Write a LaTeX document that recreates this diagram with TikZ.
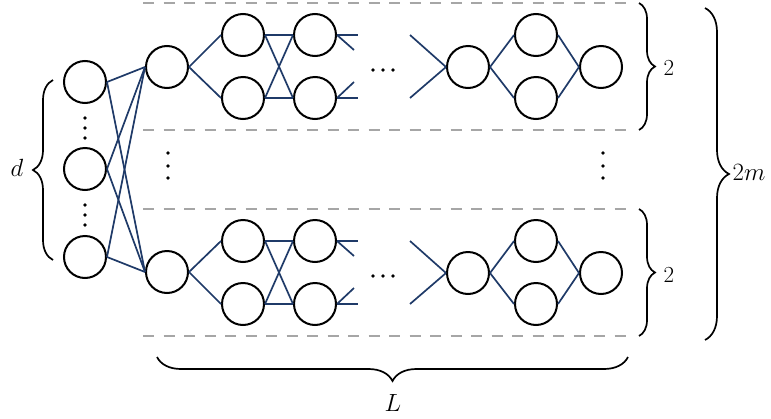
\documentclass[tikz,border=0pt]{standalone}
\usetikzlibrary{decorations.pathreplacing}
\definecolor{edgeblue}{RGB}{31,58,104}
\definecolor{sepgray}{RGB}{166,166,166}
\begin{document}
\begin{tikzpicture}[x=1pt,y=-1pt,
 neuron/.style={circle,draw=black,line width=2pt,minimum size=42pt,inner sep=0pt},
 conn/.style={draw=edgeblue,line width=1.7pt},
 sepline/.style={draw=sepgray,line width=1.7pt,dash pattern=on 11pt off 9.5pt},
 bracket/.style={decorate,decoration={brace,amplitude=#1},line width=1.7pt},
 dotmark/.style={fill=black},
 biglbl/.style={font=\fontsize{30}{34}\selectfont},
 smalllbl/.style={font=\fontsize{23}{26}\selectfont}]
\useasboundingbox (0,0) rectangle (771,418);

% left input column
\node[neuron] (x1) at (85,82) {};
\node[neuron] (x2) at (85,169) {};
\node[neuron] (x3) at (85,257) {};
\foreach \yy in {118,128,138,205,215,225} \fill[dotmark] (85,\yy) circle (1.9);

% second column
\node[neuron] (bt) at (167,67) {};
\node[neuron] (bb) at (167,272) {};
\foreach \i in {1,2,3} {
  \draw[conn] (x\i.east) -- (bt.west);
  \draw[conn] (x\i.east) -- (bb.west);
}

% bands
\foreach \o/\k in {0/t,206/b} {
  \draw[sepline] (143,3+\o) -- (627,3+\o);
  \draw[sepline] (143,130+\o) -- (627,130+\o);
  \node[neuron] (c\k1) at (243,35+\o) {};
  \node[neuron] (c\k2) at (243,98+\o) {};
  \node[neuron] (e\k1) at (315,35+\o) {};
  \node[neuron] (e\k2) at (315,98+\o) {};
  \node[neuron] (f\k) at (468,67+\o) {};
  \node[neuron] (g\k1) at (536,35+\o) {};
  \node[neuron] (g\k2) at (536,98+\o) {};
  \node[neuron] (h\k) at (601,67+\o) {};
  \coordinate (sa\k) at (358,35+\o);
  \coordinate (sb\k) at (354,50+\o);
  \coordinate (sc\k) at (354,82+\o);
  \coordinate (sd\k) at (358,98+\o);
  \coordinate (ia\k) at (410,35+\o);
  \coordinate (ib\k) at (410,98+\o);
  \draw[conn] (b\k.east) -- (c\k1.west);
  \draw[conn] (b\k.east) -- (c\k2.west);
  \draw[conn] (c\k1.east) -- (e\k1.west);
  \draw[conn] (c\k1.east) -- (e\k2.west);
  \draw[conn] (c\k2.east) -- (e\k1.west);
  \draw[conn] (c\k2.east) -- (e\k2.west);
  \draw[conn] (e\k1.east) -- (sa\k);
  \draw[conn] (e\k1.east) -- (sb\k);
  \draw[conn] (e\k2.east) -- (sc\k);
  \draw[conn] (e\k2.east) -- (sd\k);
  \draw[conn] (ia\k) -- (f\k.west);
  \draw[conn] (ib\k) -- (f\k.west);
  \draw[conn] (f\k.east) -- (g\k1.west);
  \draw[conn] (f\k.east) -- (g\k2.west);
  \draw[conn] (g\k1.east) -- (h\k.west);
  \draw[conn] (g\k2.east) -- (h\k.west);
  \foreach \xx in {373,383,393} \fill[dotmark] (\xx,70+\o) circle (1.8);
}

% vertical dots between bands
\foreach \yy in {153,166,178} {
  \fill[dotmark] (168,\yy) circle (1.9);
  \fill[dotmark] (603,\yy) circle (1.9);
}

% braces
\draw[bracket=20] (53,260) -- (53,80);
\node[biglbl] (ld) at (17,168) {$d$};
\draw[bracket=16] (639,3) -- (639,130);
\node[smalllbl] (l2t) at (669,68) {2};
\draw[bracket=16] (639,209) -- (639,336);
\node[smalllbl] (l2b) at (669,275) {2};
\draw[bracket=24] (705,8) -- (705,340);
\node[font=\fontsize{32}{36}\selectfont] (l2m) at (749,172) {$2m$};
\draw[bracket=24] (628,357) -- (157,357);
\node[biglbl] (lL) at (393,403) {$L$};
\end{tikzpicture}
\end{document}
